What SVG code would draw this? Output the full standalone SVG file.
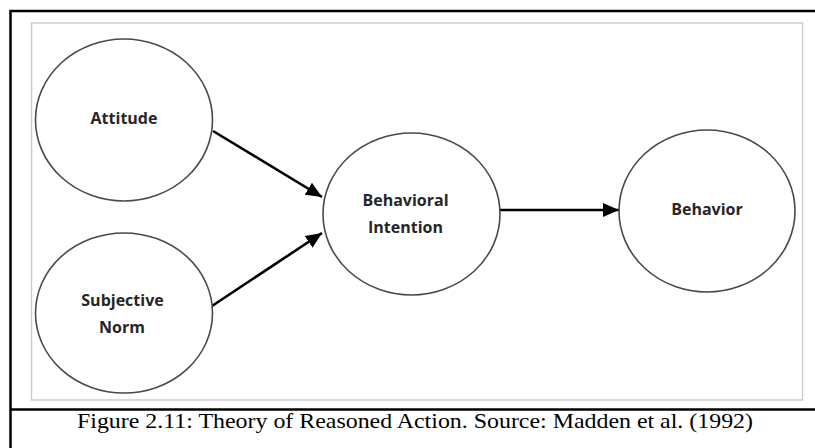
<svg xmlns="http://www.w3.org/2000/svg" width="815" height="448" viewBox="0 0 815 448">
  <style>
    .frame { fill: none; stroke: #000; stroke-width: 2.5; }
    .panel { fill: #fff; stroke: #cdcdcd; stroke-width: 1.5; }
    .node ellipse { fill: #fff; stroke: #4a4a4a; stroke-width: 1.6; }
    .node text { font-family: "Open Sans", "Liberation Sans", sans-serif; font-weight: 700; font-size: 16px; fill: #262626; text-anchor: middle; dominant-baseline: central; }
    .edge { stroke: #000; stroke-width: 2.6; fill: none; marker-end: url(#arrow); }
    .caption { font-family: "Liberation Serif", "Times New Roman", serif; font-size: 22px; fill: #000; }
  </style>
  <defs>
    <marker id="arrow" markerUnits="userSpaceOnUse" markerWidth="17" markerHeight="15" refX="16" refY="7.5" orient="auto">
      <path d="M0,0.5 L16,7.5 L0,14.5 z" fill="#000"/>
    </marker>
  </defs>

  <rect width="815" height="448" fill="#fff"/>

  <!-- outer figure frame and caption divider -->
  <g id="frame">
    <path class="frame" d="M10.5,448 V11 H815"/>
    <path class="frame" d="M10.5,409.5 H815"/>
  </g>

  <!-- light panel behind the model -->
  <rect class="panel" x="31.5" y="23" width="771" height="377"/>

  <!-- connectors -->
  <g id="connectors">
    <line class="edge" x1="213" y1="131" x2="322" y2="197"/>
    <line class="edge" x1="212" y1="306" x2="322" y2="233"/>
    <line class="edge" x1="500" y1="210" x2="619" y2="210"/>
  </g>

  <g id="attitude" class="node">
    <ellipse cx="124" cy="120" rx="88.5" ry="81"/>
    <text x="124" y="118" font-size="16.5">Attitude</text>
  </g>

  <g id="subjective-norm" class="node">
    <ellipse cx="124" cy="313" rx="88.5" ry="80"/>
    <text x="122.5" y="300">Subjective</text>
    <text x="122" y="327">Norm</text>
  </g>

  <g id="behavioral-intention" class="node">
    <ellipse cx="411.5" cy="214" rx="88.5" ry="81"/>
    <text x="405.5" y="200">Behavioral</text>
    <text x="405.5" y="227">Intention</text>
  </g>

  <g id="behavior" class="node">
    <ellipse cx="707" cy="211" rx="88" ry="81"/>
    <text x="707" y="209">Behavior</text>
  </g>

  <text class="caption" x="77" y="428" textLength="676" lengthAdjust="spacingAndGlyphs">Figure 2.11: Theory of Reasoned Action. Source: Madden et al. (1992)</text>
</svg>
